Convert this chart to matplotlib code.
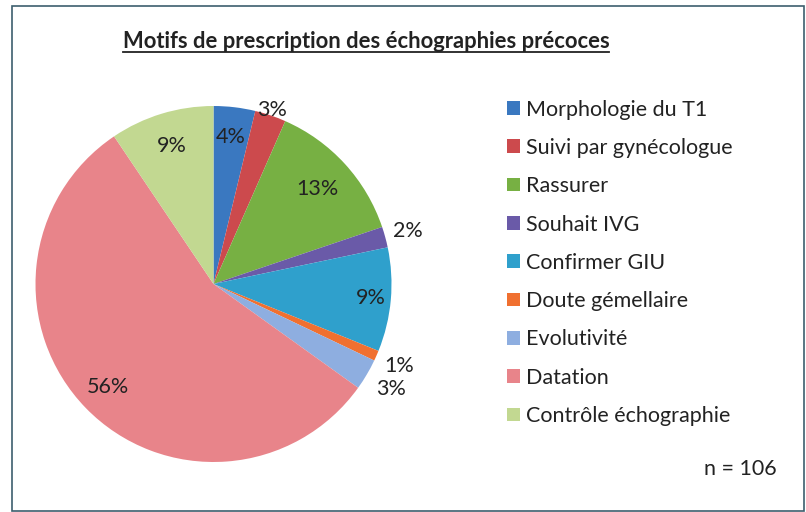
import matplotlib
matplotlib.use("Agg")
import matplotlib.pyplot as plt
from matplotlib.patches import Rectangle
import numpy as np

categories = ["Morphologie du T1", "Suivi par gynécologue", "Rassurer", "Souhait IVG",
              "Confirmer GIU", "Doute gémellaire", "Evolutivité", "Datation",
              "Contrôle échographie"]
counts = [4, 3, 14, 2, 10, 1, 3, 59, 10]
pct_labels = ["4%", "3%", "13%", "2%", "9%", "1%", "3%", "56%", "9%"]
colors = ["#3a78c0", "#cc4a4d", "#77b043", "#6a5aa8", "#2fa0cc", "#f07030",
          "#8eaee0", "#e8848a", "#c2d891"]
label_radius = [0.83, 1.03, 0.79, 1.13, 0.89, 1.14, 1.16, 0.83, 0.81]
title = "Motifs de prescription des échographies précoces"
n_text = "n = 106"

plt.rcParams["font.family"] = ["Lato", "DejaVu Sans"]

W, H = 806, 512
fig = plt.figure(figsize=(W / 100, H / 100), dpi=100)
fig.patch.set_facecolor("white")

# border
fig.add_artist(Rectangle((12 / W, 1.5 / H), (804 - 12) / W, (506 - 1.5) / H,
                         transform=fig.transFigure, fill=False,
                         edgecolor="#3d5f6e", linewidth=1.2))

cx, cy, r = 213.5, 284, 178
ax = fig.add_axes([(cx - r) / W, (H - cy - r) / H, 2 * r / W, 2 * r / H])
wedges, _ = ax.pie(counts, colors=colors, startangle=90, counterclock=False,
                   radius=1.0, wedgeprops=dict(linewidth=0))
ax.set_xlim(-1, 1)
ax.set_ylim(-1, 1)
ax.set_aspect("equal")
ax.axis("off")

for w, lab, rf in zip(wedges, pct_labels, label_radius):
    ang = np.deg2rad((w.theta1 + w.theta2) / 2)
    ax.text(rf * np.cos(ang), rf * np.sin(ang), lab, ha="center", va="center",
            fontsize=15.5, color="#222222", clip_on=False)

tt = fig.text(366 / W, 1 - 42 / H, title, ha="center", va="center",
              fontsize=15.8, fontweight="bold", color="#222222")
fig.canvas.draw()
bb = tt.get_window_extent()
fig.add_artist(plt.Line2D([bb.x0 / W, bb.x1 / W], [1 - 52 / H, 1 - 52 / H],
                          transform=fig.transFigure, color="#222222", linewidth=1.3))

leg = fig.legend(wedges, categories, loc="upper left",
                 bbox_to_anchor=(498 / W, 1 - 91 / H), frameon=False,
                 fontsize=15.5, handlelength=0.6, handleheight=0.6,
                 handletextpad=0.3, labelspacing=0.85, borderaxespad=0)
for t in leg.get_texts():
    t.set_color("#222222")

fig.text(740 / W, 1 - 469 / H, n_text, ha="center", va="center",
         fontsize=15.5, color="#222222")

fig.savefig("out.png", dpi=100)
